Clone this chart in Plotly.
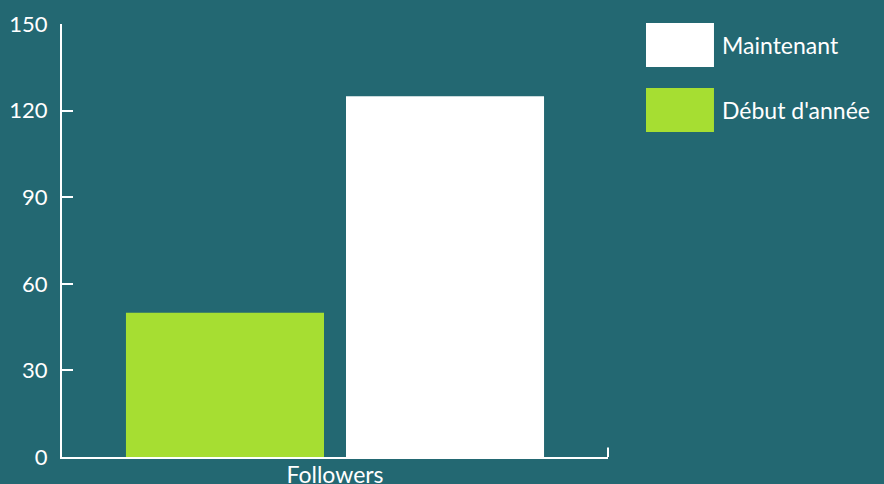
import plotly.graph_objects as go

categories = ["Followers"]
series_names = ["Début d'année", "Maintenant"]
series_values = [[50], [125]]
series_colors = ["#A6DE32", "#FFFFFF"]
y_ticks = [0, 30, 60, 90, 120, 150]

BG = "#236872"
FONT = "Lato"

fig = go.Figure()
for name, vals, col in zip(series_names, series_values, series_colors):
    fig.add_trace(go.Bar(x=categories, y=vals, name=name, marker=dict(color=col, line=dict(width=0)),
                         showlegend=False))

# custom legend (large swatches), listed in reverse order
legend_items = list(zip(series_names, series_colors))[::-1]
sw_x0, sw_x1 = 1.0696, 1.1941
sw_rows = [(0.9007, 1.0023), (0.7506, 0.8522)]
for (name, col), (y0, y1) in zip(legend_items, sw_rows):
    fig.add_shape(type="rect", xref="paper", yref="paper", x0=sw_x0, x1=sw_x1, y0=y0, y1=y1,
                  fillcolor=col, line=dict(width=0))
    fig.add_annotation(xref="paper", yref="paper", x=1.2051, y=(y0 + y1) / 2, text=name,
                       showarrow=False, xanchor="left", yanchor="middle",
                       font=dict(family=FONT, size=23, color="white"))

# right end outer tick of x axis
fig.add_shape(type="line", xref="paper", yref="paper", x0=1, x1=1, y0=0, y1=0.022,
              line=dict(color="white", width=2))

fig.update_layout(
    width=884, height=484,
    margin=dict(l=62, r=276, t=24, b=27),
    paper_bgcolor=BG, plot_bgcolor=BG,
    barmode="group", bargap=0.194, bargroupgap=0.1,
    font=dict(family=FONT, color="white", size=21),
    xaxis=dict(showline=True, linecolor="white", linewidth=2, ticks="", showgrid=False,
               zeroline=False, tickfont=dict(size=23), fixedrange=True, automargin=False,
               ticklabelstandoff=-4),
    yaxis=dict(range=[0, 150], tickvals=y_ticks, showline=True, linecolor="white", linewidth=2,
               ticks="inside", ticklen=11, tickwidth=2, tickcolor="white", showgrid=False,
               zeroline=False, tickfont=dict(size=22), ticklabelstandoff=8, automargin=False),
)

fig.write_html("out.html", config={"displayModeBar": False},
               post_script="document.body.style.margin='0';document.body.style.background='%s';" % BG)
